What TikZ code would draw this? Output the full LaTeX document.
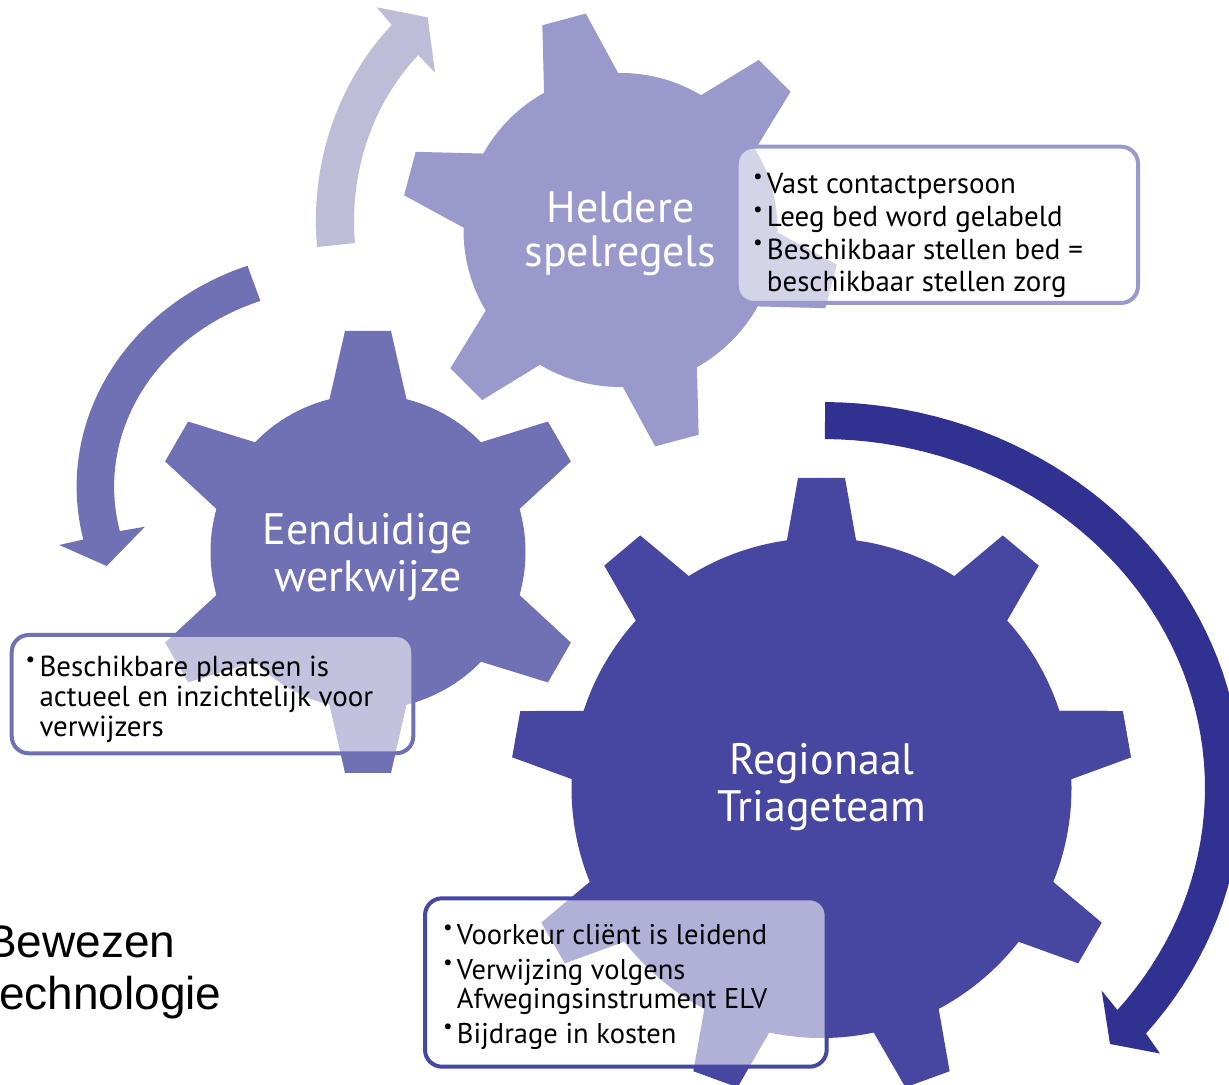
\documentclass[tikz,border=0pt]{standalone}
\usepackage{fontspec}
\setmainfont{PT Sans}
\newfontfamily\arialf{Liberation Sans}
\definecolor{gA}{HTML}{9999CC}
\definecolor{gB}{HTML}{7070B5}
\definecolor{gC}{HTML}{4747A1}
\definecolor{arA}{HTML}{BDBDD7}
\definecolor{arC}{HTML}{313192}
\newcommand\bul{\leavevmode\llap{\raisebox{7.6pt}{\fontsize{16}{16}\selectfont •}\hspace{3.2pt}}}
\newcommand\txtblock[3]{\begin{minipage}[t]{#1}#2\lineskiplimit=-100pt\lineskip=0pt\relax #3\end{minipage}}
\tikzset{
  tbox/.style={rounded corners=12.75pt, line width=3pt, fill=white, fill opacity=0.58},
  glabel/.style={anchor=base, inner sep=0pt, text=white},
  blabel/.style={anchor=base west, inner sep=0pt, text=black},
}
\begin{document}
\begin{tikzpicture}[x=0.75pt,y=0.75pt]
\useasboundingbox (0,0) rectangle (1229,1085);
\clip (0,0) rectangle (1229,1085);
\fill[white] (0,0) rectangle (1229,1085);

% arrows
\fill[arA] plot[domain=185.5:134.1, samples=50] ({565.4+249.5*cos(\x)}, {864.1+272.9*sin(\x)})
  -- (376.7,1077.7) -- (427.7,1067.7) -- (435,1012.3)
  -- plot[domain=134.1:185.5, samples=50] ({565.4+211.4*cos(\x)}, {864.1+231*sin(\x)}) -- cycle;
\fill[gB] plot[domain=110.2:193, samples=50] ({337.6+261*cos(\x)}, {598.4+235.3*sin(\x)})
  -- (59.3,540) -- (106.7,519) -- (145,558.3)
  -- plot[domain=193:110.2, samples=50] ({337.6+223.5*cos(\x)}, {598.4+197.9*sin(\x)}) -- cycle;
\fill[arC] plot[domain=89.5:-39.5, samples=60] ({821.5+420.5*cos(\x)}, {297+386*sin(\x)})
  -- (1160,31.5) -- (1110,41) -- (1101.7,94.4)
  -- plot[domain=-39.5:89.5, samples=60] ({821.5+383.5*cos(\x)}, {297+349*sin(\x)}) -- cycle;

% gear 1 (Heldere spelregels)
\begin{scope}[shift={(620.5,855)}]
  \fill[gA] (0,0) circle (157);
  \foreach \a in {45,105,...,345}
    \fill[gA, rotate=\a] (130,-43.7) -- (218,-22.5) -- (218,22.5) -- (130,43.7) -- cycle;
\end{scope}
% gear 2 (Eenduidige werkwijze)
\begin{scope}[shift={(368,533)}]
  \fill[gB] (0,0) circle (157.5);
  \foreach \a in {30,90,...,330}
    \fill[gB, rotate=\a] (130,-43.7) -- (221,-23) -- (221,23) -- (130,43.7) -- cycle;
\end{scope}
% gear 3 (Regionaal Triageteam)
\begin{scope}[shift={(821.5,297)}]
  \fill[gC] (0,0) circle (250);
  \foreach \a in {10,50,...,370}
    \fill[gC, rotate=\a] (225,-38.6) -- (310,-23.5) -- (310,23.5) -- (225,38.6) -- cycle;
\end{scope}

% gear labels
\node[glabel] (l1) at (620.5,862) {\txtblock{300pt}{\fontsize{33}{33}\selectfont\centering}{Heldere\\spelregels}};
\node[glabel] (l2) at (368,540) {\txtblock{300pt}{\fontsize{33}{35.25}\selectfont\centering}{Eenduidige\\werkwijze}};
\node[glabel] (l3) at (822,310) {\txtblock{300pt}{\fontsize{33}{35.25}\selectfont\centering}{Regionaal\\Triageteam}};

% text boxes
\draw[tbox, draw=gA] (736.7,938.3) rectangle (1138,782);
\draw[tbox, draw=gB] (11.7,450) rectangle (413.3,331.7);
\draw[tbox, draw=gC] (425,186.7) rectangle (826.7,18.3);

\node[blabel] (t1) at (766.7,891.7) {\txtblock{300pt}{\fontsize{21.7}{23.8}\selectfont\raggedright}{\bul Vast contactpersoon\\[1.2pt] \bul Leeg bed word gelabeld\\[1.2pt] \bul Beschikbaar stellen bed =\\ beschikbaar stellen zorg}};
\node[blabel] (t2) at (39.3,408) {\txtblock{300pt}{\fontsize{21.7}{22.5}\selectfont\raggedright}{\bul Beschikbare plaatsen is\\ actueel en inzichtelijk voor\\ verwijzers}};
\node[blabel] (t3) at (456.7,140) {\txtblock{300pt}{\fontsize{21.4}{22}\selectfont\raggedright}{\bul Voorkeur cliënt is leidend\\[4pt] \bul Verwijzing volgens\\ Afwegingsinstrument ELV\\[4pt] \bul Bijdrage in kosten}};

\node[anchor=base west, inner sep=0pt] (bt) at (-14,127) {\txtblock{300pt}{\arialf\fontsize{34.5}{39}\selectfont\raggedright}{Bewezen\\technologie}};
\end{tikzpicture}
\end{document}
